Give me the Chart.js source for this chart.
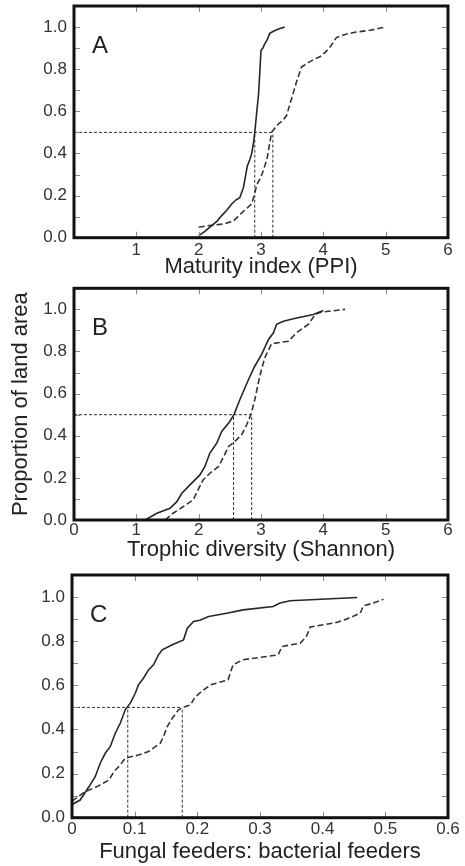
<!DOCTYPE html>
<html>
<head>
<meta charset="utf-8">
<script src="https://cdn.jsdelivr.net/npm/chart.js@4.4.1/dist/chart.umd.min.js"></script>
<style>
html,body{margin:0;padding:0;background:#fff;overflow:hidden;}
.wrap{position:absolute;left:0;width:465px;}
canvas{display:block;}
</style>
</head>
<body>
<div class="wrap" style="top:-18px;height:302px"><canvas id="cA" width="465" height="302"></canvas></div>
<div class="wrap" style="top:264px;height:301px"><canvas id="cB" width="465" height="301"></canvas></div>
<div class="wrap" style="top:551px;height:315px"><canvas id="cC" width="465" height="315"></canvas></div>
<script>
// ---------- Panel A: Maturity index (PPI) ----------
const aSolidX = [2.0, 2.1, 2.18, 2.3, 2.37, 2.45, 2.53, 2.6, 2.66, 2.72, 2.75, 2.78, 2.82, 2.85, 2.88, 2.9, 2.93, 2.96, 2.98, 3.0, 3.03, 3.06, 3.1, 3.14, 3.2, 3.27, 3.38];
const aSolidY = [0.01, 0.03, 0.05, 0.08, 0.105, 0.13, 0.16, 0.18, 0.19, 0.24, 0.29, 0.34, 0.37, 0.40, 0.45, 0.50, 0.59, 0.68, 0.78, 0.89, 0.90, 0.92, 0.94, 0.97, 0.98, 0.99, 1.0];
const aDashX = [2.0, 2.1, 2.25, 2.4, 2.56, 2.7, 2.85, 2.9, 2.93, 3.0, 3.04, 3.1, 3.17, 3.22, 3.28, 3.36, 3.41, 3.49, 3.57, 3.65, 3.75, 3.84, 3.95, 4.03, 4.12, 4.21, 4.35, 4.5, 4.75, 5.0];
const aDashY = [0.05, 0.055, 0.06, 0.065, 0.08, 0.12, 0.16, 0.21, 0.25, 0.29, 0.32, 0.38, 0.50, 0.52, 0.54, 0.56, 0.58, 0.66, 0.74, 0.81, 0.83, 0.845, 0.86, 0.88, 0.91, 0.95, 0.965, 0.975, 0.985, 1.0];
const aMedians = [2.9, 3.19];

// ---------- Panel B: Trophic diversity (Shannon) ----------
const bSolidX = [1.14, 1.33, 1.54, 1.65, 1.73, 1.86, 2.02, 2.10, 2.18, 2.29, 2.37, 2.50, 2.57, 2.66, 2.80, 2.90, 3.01, 3.12, 3.20, 3.25, 3.36, 3.52, 3.84, 4.0];
const bSolidY = [0.0, 0.032, 0.056, 0.087, 0.127, 0.167, 0.214, 0.254, 0.318, 0.365, 0.42, 0.468, 0.503, 0.571, 0.667, 0.73, 0.786, 0.857, 0.889, 0.929, 0.944, 0.955, 0.976, 0.995];
const bDashX = [1.46, 1.59, 1.75, 1.91, 1.99, 2.07, 2.18, 2.32, 2.40, 2.48, 2.58, 2.69, 2.77, 2.84, 2.90, 2.98, 3.06, 3.17, 3.44, 3.57, 3.76, 3.87, 3.97, 4.35];
const bDashY = [0.0, 0.032, 0.063, 0.095, 0.143, 0.19, 0.222, 0.254, 0.30, 0.349, 0.373, 0.405, 0.452, 0.503, 0.571, 0.683, 0.77, 0.837, 0.849, 0.889, 0.929, 0.976, 0.987, 1.0];
const bMedians = [2.56, 2.85];

// ---------- Panel C: Fungal feeders : bacterial feeders ----------
const cSolidX = [0.0, 0.013, 0.027, 0.037, 0.045, 0.053, 0.061, 0.069, 0.077, 0.085, 0.093, 0.101, 0.106, 0.114, 0.122, 0.130, 0.138, 0.144, 0.160, 0.178, 0.184, 0.194, 0.204, 0.218, 0.247, 0.273, 0.321, 0.332, 0.348, 0.455];
const cSolidY = [0.06, 0.08, 0.14, 0.186, 0.247, 0.292, 0.322, 0.383, 0.428, 0.489, 0.519, 0.564, 0.602, 0.632, 0.67, 0.693, 0.738, 0.761, 0.784, 0.806, 0.859, 0.889, 0.895, 0.912, 0.927, 0.942, 0.957, 0.973, 0.983, 0.998];
const cDashX = [0.0, 0.021, 0.040, 0.059, 0.067, 0.077, 0.085, 0.106, 0.122, 0.141, 0.146, 0.152, 0.160, 0.170, 0.178, 0.189, 0.197, 0.210, 0.221, 0.249, 0.257, 0.273, 0.329, 0.335, 0.364, 0.374, 0.380, 0.422, 0.438, 0.460, 0.465, 0.481, 0.497];
const cDashY = [0.075, 0.118, 0.141, 0.171, 0.209, 0.239, 0.27, 0.284, 0.30, 0.338, 0.368, 0.413, 0.451, 0.489, 0.501, 0.511, 0.549, 0.579, 0.602, 0.625, 0.693, 0.716, 0.738, 0.776, 0.791, 0.821, 0.864, 0.885, 0.90, 0.927, 0.96, 0.973, 0.99];
const cMedians = [0.089, 0.176];

const yTickValues = [0.0, 0.2, 0.4, 0.6, 0.8, 1.0];
const FONT = "'Liberation Sans', Arial, Helvetica, sans-serif";
const LINE = '#262626';

function pts(xs, ys) { return xs.map((x, i) => ({x: x, y: ys[i]})); }

function framePlugin(letter) {
  return {
    id: 'frame' + letter,
    afterDraw(chart) {
      const ctx = chart.ctx;
      const {left, top, right, bottom} = chart.chartArea;
      const xs = chart.scales.x, ys = chart.scales.y;
      ctx.save();
      ctx.strokeStyle = '#8a8a8a';
      ctx.lineWidth = 1;
      ctx.beginPath();
      xs.ticks.forEach(t => {
        const p = Math.round(xs.getPixelForValue(t.value)) + 0.5;
        ctx.moveTo(p, bottom); ctx.lineTo(p, bottom - 6);
        ctx.moveTo(p, top); ctx.lineTo(p, top + 6);
      });
      ys.ticks.forEach(t => {
        const p = Math.round(ys.getPixelForValue(t.value)) + 0.5;
        ctx.moveTo(left, p); ctx.lineTo(left + 6, p);
        ctx.moveTo(right, p); ctx.lineTo(right - 6, p);
      });
      ctx.stroke();
      ctx.strokeStyle = '#111';
      ctx.lineWidth = 3;
      ctx.strokeRect(left, top, right - left, bottom - top);
      ctx.fillStyle = '#222';
      ctx.font = '24px ' + FONT;
      ctx.textAlign = 'left';
      ctx.textBaseline = 'middle';
      ctx.fillText(letter, left + 18, top + 40);
      ctx.restore();
    }
  };
}

function makeChart(id, opt) {
  const medDash = [3, 2];
  const datasets = [
    {data: pts(opt.sx, opt.sy), borderColor: LINE, borderWidth: 1.6, pointRadius: 0, tension: 0, fill: false},
    {data: pts(opt.dx, opt.dy), borderColor: '#333', borderWidth: 1.6, borderDash: [6, 3], pointRadius: 0, tension: 0, fill: false},
    {data: [{x: opt.xmin, y: 0.5}, {x: opt.med[1], y: 0.5}], borderColor: '#333', borderWidth: 1, borderDash: medDash, pointRadius: 0},
    {data: [{x: opt.med[0], y: 0}, {x: opt.med[0], y: 0.5}], borderColor: '#333', borderWidth: 1, borderDash: medDash, pointRadius: 0},
    {data: [{x: opt.med[1], y: 0}, {x: opt.med[1], y: 0.5}], borderColor: '#333', borderWidth: 1, borderDash: medDash, pointRadius: 0}
  ];
  const canvas = document.getElementById(id);
  return new Chart(canvas, {
    type: 'line',
    data: {datasets: datasets},
    plugins: [framePlugin(opt.letter)],
    options: {
      responsive: false,
      animation: false,
      devicePixelRatio: 1,
      layout: {padding: {top: opt.padTop, right: 17, left: 0, bottom: 0}},
      plugins: {legend: {display: false}, tooltip: {enabled: false}},
      scales: {
        x: {
          type: 'linear', min: opt.xmin, max: opt.xmax,
          grid: {display: false, drawTicks: false},
          border: {display: false},
          ticks: {
            stepSize: opt.xstep, color: '#333', padding: opt.xTickPad,
            font: {family: FONT, size: 17},
            maxRotation: 0, autoSkip: false,
            callback: opt.xfmt
          },
          title: {display: true, text: opt.xtitle, color: '#222', font: {family: FONT, size: 22}, padding: {top: 0, bottom: opt.xTitlePad}},
          afterFit(s) { s.height = opt.xAxisH; }
        },
        y: {
          type: 'linear', min: 0, max: 1.1,
          grid: {display: false, drawTicks: false},
          border: {display: false},
          ticks: {
            stepSize: 0.1, color: '#333', padding: 7,
            font: {family: FONT, size: 17},
            autoSkip: false,
            callback(v) {
              const r = Math.round(v * 10) / 10;
              return yTickValues.some(t => Math.abs(t - r) < 1e-6) ? r.toFixed(1) : '';
            }
          },
          title: {display: !!opt.ytitle, text: opt.ytitle || '', color: '#222', font: {family: FONT, size: 22}, padding: {top: 8, bottom: 0}},
          afterFit(s) { s.width = opt.yAxisW; }
        }
      }
    }
  });
}

makeChart('cA', {
  letter: 'A', sx: aSolidX, sy: aSolidY, dx: aDashX, dy: aDashY, med: aMedians,
  xmin: 0, xmax: 6, xstep: 1, xtitle: 'Maturity index (PPI)',
  xfmt: v => (v === 0 ? '' : String(Math.round(v))),
  padTop: 24, xAxisH: 46.3, yAxisW: 74, xTickPad: 2, xTitlePad: 4
});
makeChart('cB', {
  letter: 'B', sx: bSolidX, sy: bSolidY, dx: bDashX, dy: bDashY, med: bMedians,
  xmin: 0, xmax: 6, xstep: 1, xtitle: 'Trophic diversity (Shannon)', ytitle: 'Proportion of land area',
  xfmt: v => String(Math.round(v)),
  padTop: 24.3, xAxisH: 45, yAxisW: 74, xTickPad: 0, xTitlePad: 2
});
makeChart('cC', {
  letter: 'C', sx: cSolidX, sy: cSolidY, dx: cDashX, dy: cDashY, med: cMedians,
  xmin: 0, xmax: 0.6, xstep: 0.1, xtitle: 'Fungal feeders: bacterial feeders',
  xfmt: v => { const r = Math.round(v * 10) / 10; return r === 0 ? '0' : r.toFixed(1); },
  padTop: 24, xAxisH: 48.3, yAxisW: 72, xTickPad: 1, xTitlePad: 1
});
</script>
</body>
</html>
